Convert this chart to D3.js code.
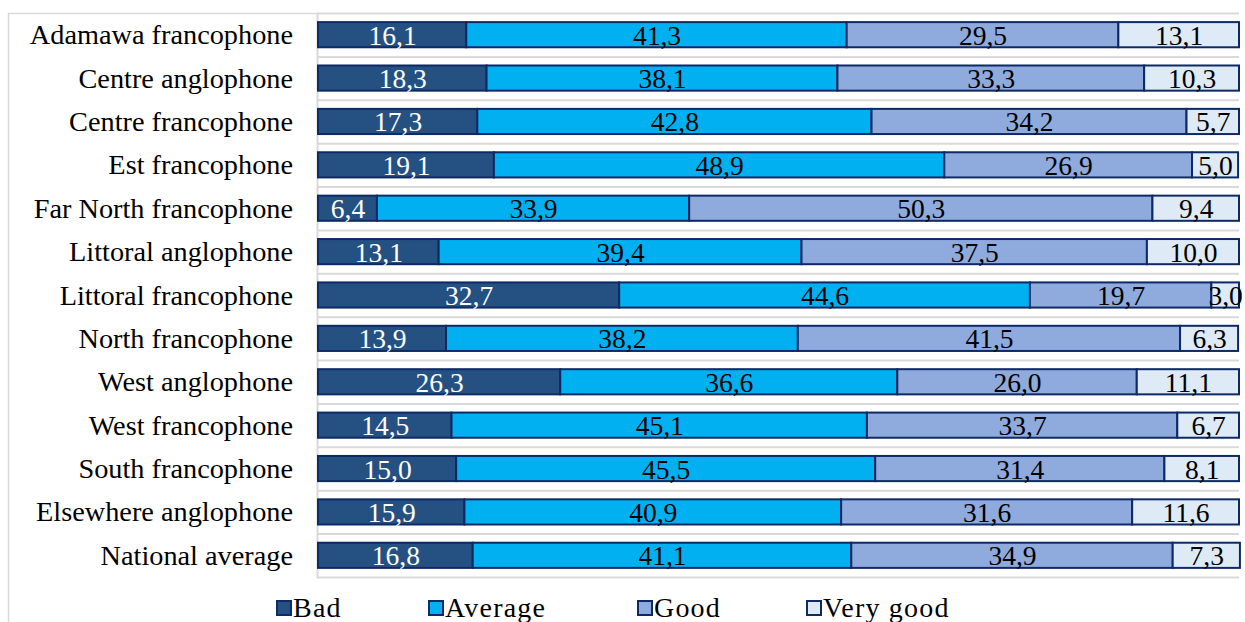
<!DOCTYPE html>
<html>
<head>
<meta charset="utf-8">
<script src="https://cdn.jsdelivr.net/npm/d3@7"></script>
<style>
  html, body { margin: 0; padding: 0; background: #fff; }
  svg { display: block; }
  text { font-family: "Liberation Serif", "Times New Roman", serif; }
</style>
</head>
<body>
<svg id="chart" width="1245" height="622"></svg>
<script>
const categories = [
  "Adamawa francophone", "Centre anglophone", "Centre francophone", "Est francophone",
  "Far North francophone", "Littoral anglophone", "Littoral francophone", "North francophone",
  "West anglophone", "West francophone", "South francophone", "Elsewhere anglophone", "National average"
];
const seriesNames = ["Bad", "Average", "Good", "Very good"];
const bad      = [16.1, 18.3, 17.3, 19.1, 6.4, 13.1, 32.7, 13.9, 26.3, 14.5, 15.0, 15.9, 16.8];
const average  = [41.3, 38.1, 42.8, 48.9, 33.9, 39.4, 44.6, 38.2, 36.6, 45.1, 45.5, 40.9, 41.1];
const good     = [29.5, 33.3, 34.2, 26.9, 50.3, 37.5, 19.7, 41.5, 26.0, 33.7, 31.4, 31.6, 34.9];
const veryGood = [13.1, 10.3, 5.7, 5.0, 9.4, 10.0, 3.0, 6.3, 11.1, 6.7, 8.1, 11.6, 7.3];
const seriesValues = [bad, average, good, veryGood];
const colors = ["#245181", "#00B0F0", "#8FAADC", "#DEEBF7"];
const labelColors = ["#ffffff", "#000000", "#000000", "#000000"];

(function () {
const svg = d3.select("#chart");
const pLeft = 318, pRight = 1239, pTop = 13, pBottom = 577;

const x = d3.scaleLinear().domain([0, 100]).range([pLeft, pRight]);
const y = d3.scaleBand().domain(categories).range([pTop, pBottom]).paddingInner(0.42).paddingOuter(0.21);

const fmt = v => d3.format(".1f")(v).replace(".", ",");

// outer chart border (partially visible)
svg.append("line").attr("x1", 8.5).attr("x2", 8.5).attr("y1", 13).attr("y2", 622)
  .attr("stroke", "#d9d9d9").attr("stroke-width", 1.5);
svg.append("line").attr("x1", 8).attr("x2", pLeft).attr("y1", 13.5).attr("y2", 13.5)
  .attr("stroke", "#d9d9d9").attr("stroke-width", 1.5);

// category gridlines (band boundaries)
const step = (pBottom - pTop) / categories.length;
const gridYs = d3.range(categories.length + 1).map(i => pTop + i * step);
svg.append("g").selectAll("line").data(gridYs).join("line")
  .attr("x1", pLeft - 1).attr("x2", pRight)
  .attr("y1", d => d + 0.5).attr("y2", d => d + 0.5)
  .attr("stroke", "#d9d9d9").attr("stroke-width", 2);

// vertical axis line
svg.append("line").attr("x1", pLeft - 0.5).attr("x2", pLeft - 0.5).attr("y1", pTop).attr("y2", pBottom + 1)
  .attr("stroke", "#d9d9d9").attr("stroke-width", 2);

// stacked data
const rows = categories.map((c, i) => {
  const o = { cat: c };
  seriesNames.forEach((s, j) => o[s] = seriesValues[j][i]);
  return o;
});
const stacked = d3.stack().keys(seriesNames)(rows);

const gBars = svg.append("g");
stacked.forEach((layer, j) => {
  gBars.append("g").selectAll("rect").data(layer).join("rect")
    .attr("x", d => x(d[0]))
    .attr("width", d => x(d[1]) - x(d[0]))
    .attr("y", d => y(d.data.cat))
    .attr("height", y.bandwidth())
    .attr("fill", colors[j])
    .attr("stroke", "#0E2A66")
    .attr("stroke-width", 2);
});
stacked.forEach((layer, j) => {
  gBars.append("g").selectAll("text").data(layer).join("text")
    .attr("x", d => (x(d[0]) + x(d[1])) / 2 + 0.5)
    .attr("y", d => y(d.data.cat) + y.bandwidth() / 2 + 10)
    .attr("text-anchor", "middle")
    .attr("font-size", 27.5)
    .attr("fill", labelColors[j])
    .text(d => fmt(d[1] - d[0]));
});

// category labels
svg.append("g").selectAll("text").data(categories).join("text")
  .attr("x", 293)
  .attr("y", d => y(d) + y.bandwidth() / 2 + 9.5)
  .attr("text-anchor", "end")
  .attr("font-size", 28.3)
  .attr("fill", "#000")
  .text(d => d);

// legend
const legendX = [276, 428, 637, 806];
const lg = svg.append("g");
seriesNames.forEach((s, j) => {
  lg.append("rect").attr("x", legendX[j] + 1).attr("y", 601).attr("width", 14).attr("height", 14)
    .attr("fill", colors[j]).attr("stroke", "#0E2A66").attr("stroke-width", 2);
  lg.append("text").attr("x", legendX[j] + 17).attr("y", 617)
    .attr("font-size", 28).attr("letter-spacing", "1.2px").attr("fill", "#000").text(s);
});
})();
</script>
</body>
</html>
